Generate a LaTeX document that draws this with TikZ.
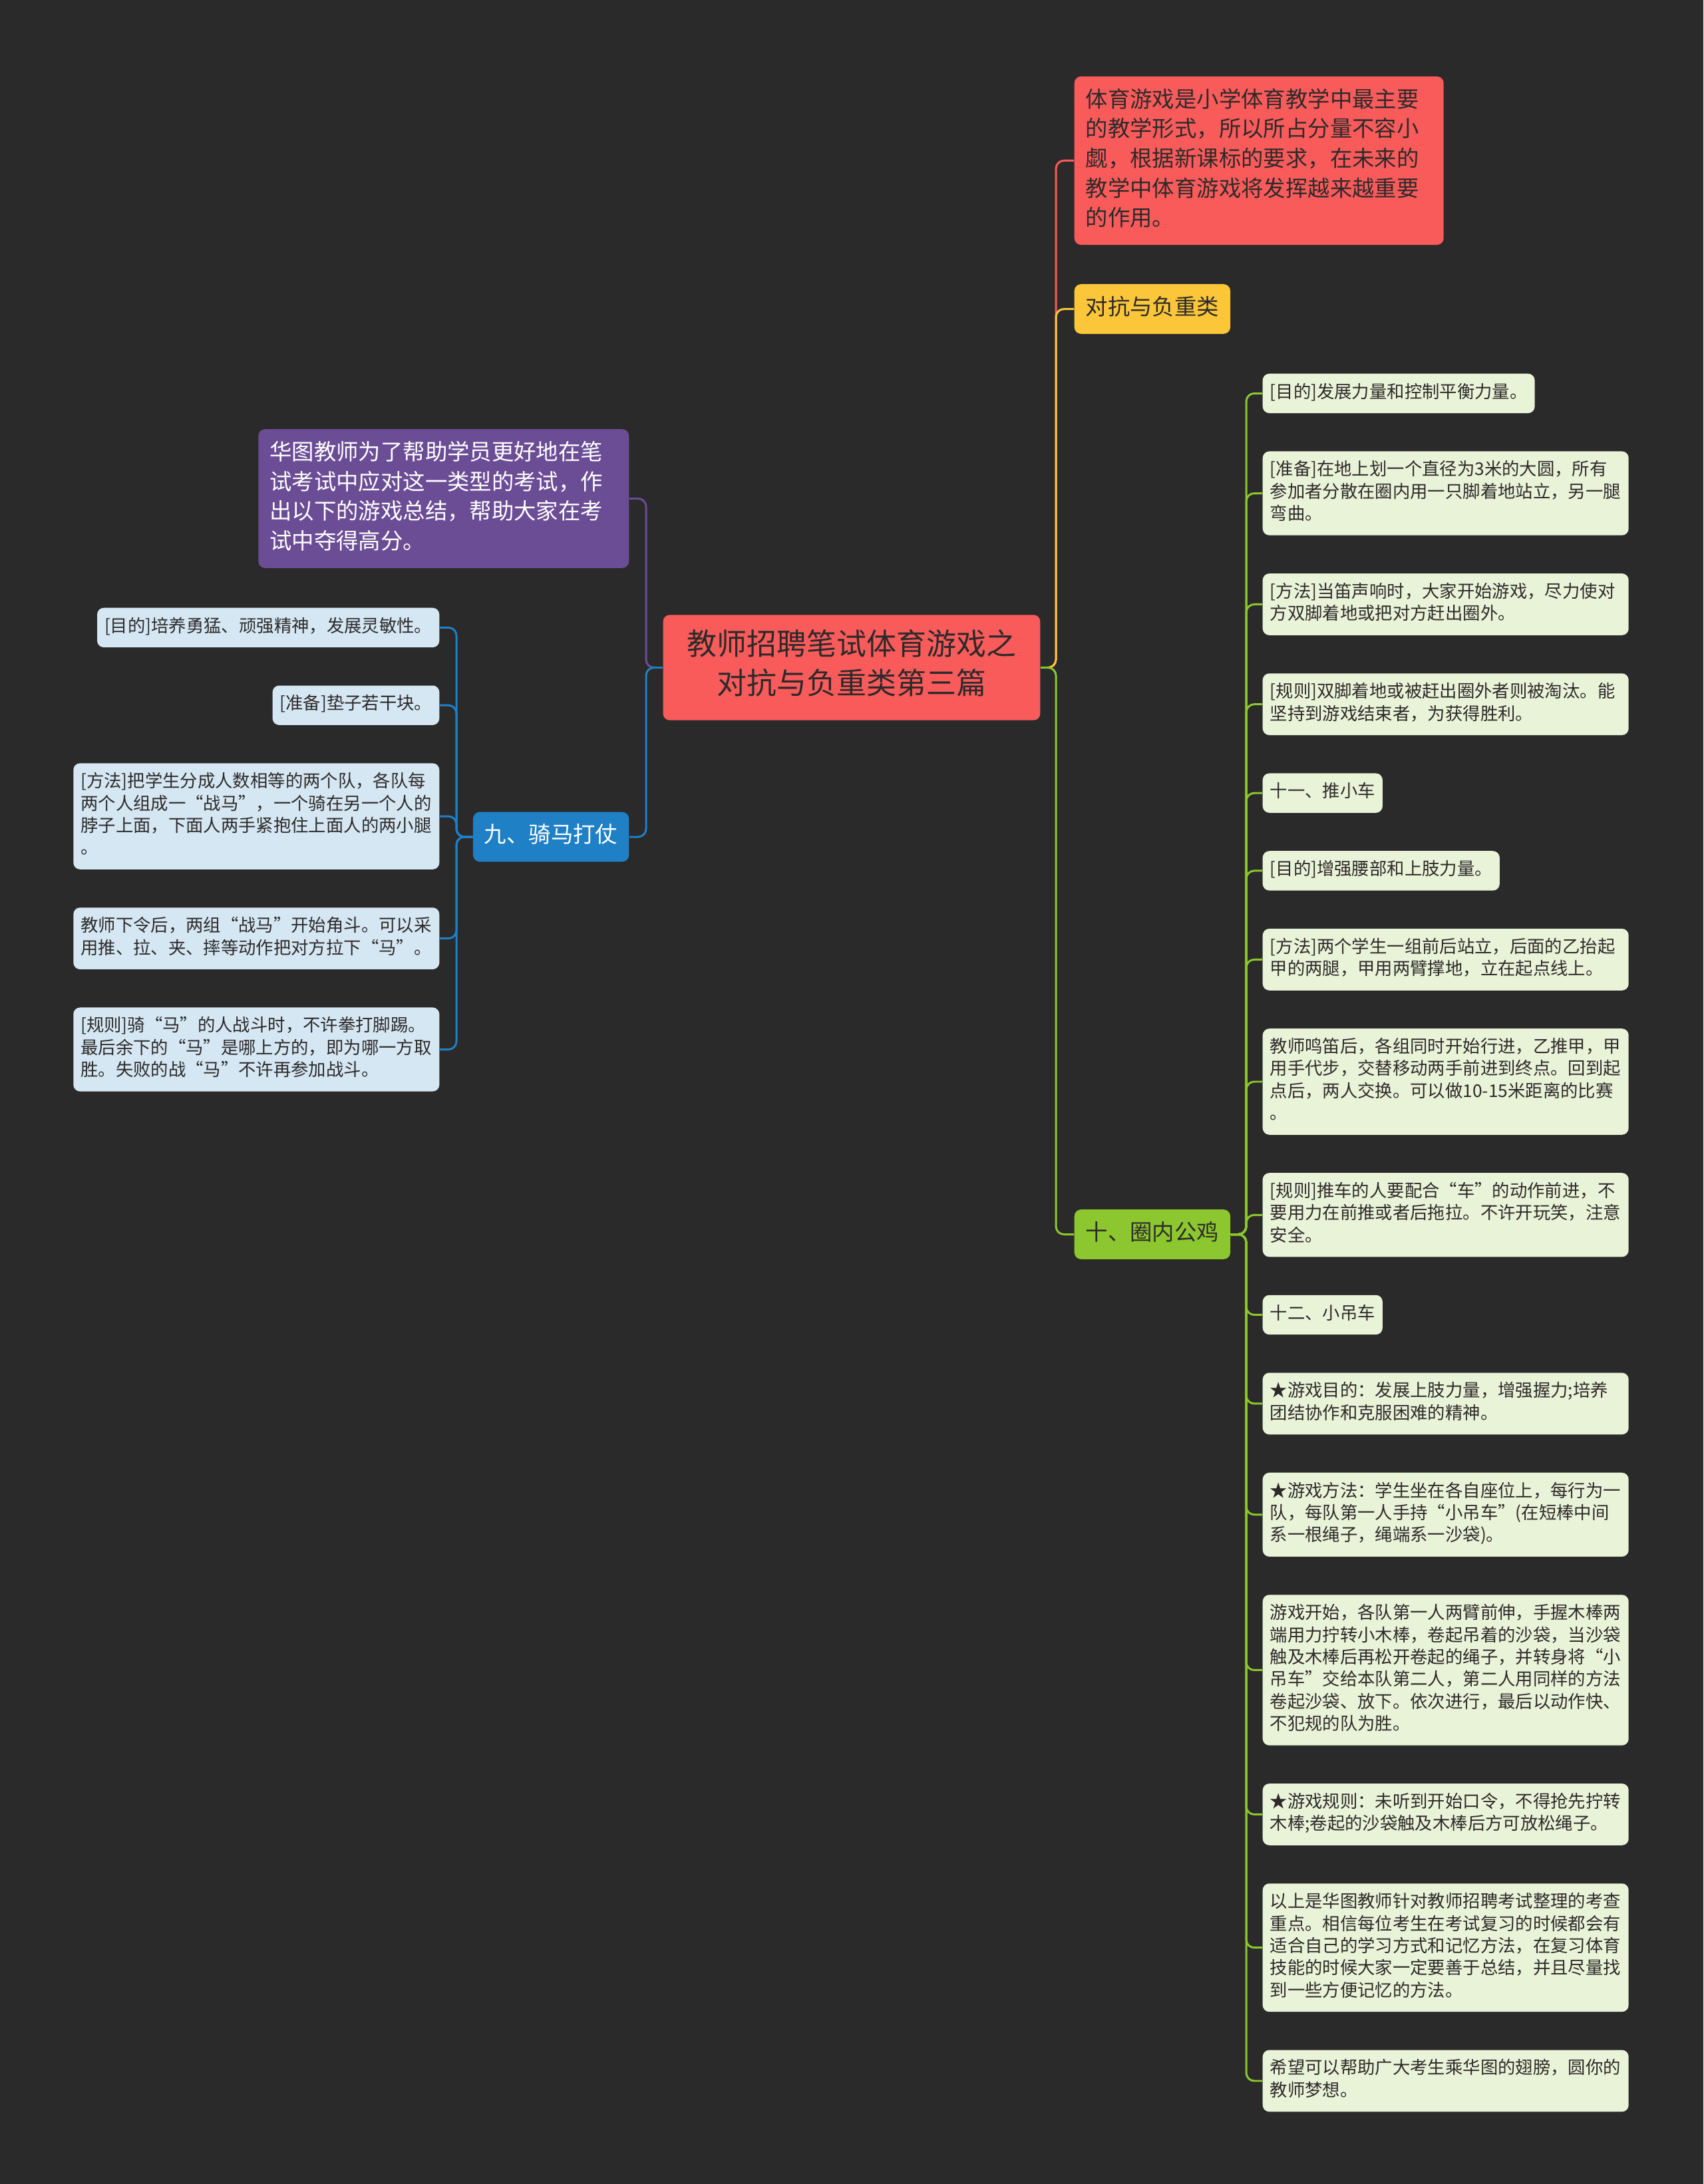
\documentclass[tikz,border=0pt]{standalone}
\usepackage{fontspec}
\setmainfont{Noto Sans CJK SC}
\usetikzlibrary{positioning}

\definecolor{bgdark}{HTML}{2A2A2A}
\definecolor{rootred}{HTML}{F95B5B}
\definecolor{inkdark}{HTML}{2E2A2A}
\definecolor{catyellow}{HTML}{FBC63A}
\definecolor{catgreen}{HTML}{8CC72F}
\definecolor{catblue}{HTML}{1F80C6}
\definecolor{introviolet}{HTML}{6B4D95}
\definecolor{leafgreen}{HTML}{E9F3D8}
\definecolor{leafblue}{HTML}{D4E7F3}

\begin{document}
\begin{tikzpicture}[
	box/.style={rounded corners=0.1cm, align=left, execute at begin node=\strut, execute at end node=\strut},
	leaf/.style={box, font=\fontsize{7.5pt}{9.5pt}\selectfont, text=inkdark, inner xsep=0.11cm, inner ysep=0.13cm},
	wide/.style={text width=5.28cm},
	leafg/.style={leaf, fill=leafgreen},
	leafb/.style={leaf, fill=leafblue},
	mid/.style={box, font=\fontsize{9.5pt}{12.7pt}\selectfont, inner xsep=0.17cm, inner ysep=0.15cm},
	link/.style={line width=0.85pt, rounded corners=0.12cm},
	elbow/.style={to path={-- (\tikztostart -| #1) |- (\tikztotarget)}},
]
	\useasboundingbox (0,0) rectangle (25.6,-32.83);
	\fill[bgdark] (0,0) rectangle (25.6,-32.83);

	% Define nodes
	\node (root) [box, fill=rootred, text=inkdark, align=center, font=\fontsize{12.8pt}{16.7pt}\selectfont, inner xsep=0.36cm, inner ysep=0.22cm] at (12.80,-10.035) {教师招聘笔试体育游戏之\\对抗与负重类第三篇};

	\node (note) [mid, fill=rootred, text=inkdark, text width=5.21cm, anchor=west] at (16.14,-2.415) {体育游戏是小学体育教学中最主要\\的教学形式，所以所占分量不容小\\觑，根据新课标的要求，在未来的\\教学中体育游戏将发挥越来越重要\\的作用。};
	\node (kind) [mid, fill=catyellow, text=inkdark, anchor=west] at (16.14,-4.645) {对抗与负重类};
	\node (shi) [mid, fill=catgreen, text=inkdark, anchor=west] at (16.14,-18.555) {十、圈内公鸡};

	\node (intro) [mid, fill=introviolet, text=white, text width=5.23cm, anchor=east] at (9.46,-7.495) {华图教师为了帮助学员更好地在笔\\试考试中应对这一类型的考试，作\\出以下的游戏总结，帮助大家在考\\试中夺得高分。};
	\node (jiu) [mid, fill=catblue, text=white, anchor=east] at (9.46,-12.58) {九、骑马打仗};

	\node (l1) [leafb, anchor=north east] at (6.61,-9.13) {[目的]培养勇猛、顽强精神，发展灵敏性。};
	\node (l2) [leafb, below left=0.56cm and 0cm of l1.south east] {[准备]垫子若干块。};
	\node (l3) [leafb, wide, below left=0.56cm and 0cm of l2.south east] {[方法]把学生分成人数相等的两个队，各队每\\两个人组成一“战马”，一个骑在另一个人的\\脖子上面，下面人两手紧抱住上面人的两小腿\\。};
	\node (l4) [leafb, wide, below left=0.56cm and 0cm of l3.south east] {教师下令后，两组“战马”开始角斗。可以采\\用推、拉、夹、摔等动作把对方拉下“马”。};
	\node (l5) [leafb, wide, below left=0.56cm and 0cm of l4.south east] {[规则]骑“马”的人战斗时，不许拳打脚踢。\\最后余下的“马”是哪上方的，即为哪一方取\\胜。失败的战“马”不许再参加战斗。};

	\node (r1) [leafg, anchor=north west] at (18.97,-5.61) {[目的]发展力量和控制平衡力量。};
	\node (r2) [leafg, wide, below right=0.56cm and 0cm of r1.south west] {[准备]在地上划一个直径为3米的大圆，所有\\参加者分散在圈内用一只脚着地站立，另一腿\\弯曲。};
	\node (r3) [leafg, wide, below right=0.56cm and 0cm of r2.south west] {[方法]当笛声响时，大家开始游戏，尽力使对\\方双脚着地或把对方赶出圈外。};
	\node (r4) [leafg, wide, below right=0.56cm and 0cm of r3.south west] {[规则]双脚着地或被赶出圈外者则被淘汰。能\\坚持到游戏结束者，为获得胜利。};
	\node (r5) [leafg, below right=0.56cm and 0cm of r4.south west] {十一、推小车};
	\node (r6) [leafg, below right=0.56cm and 0cm of r5.south west] {[目的]增强腰部和上肢力量。};
	\node (r7) [leafg, wide, below right=0.56cm and 0cm of r6.south west] {[方法]两个学生一组前后站立，后面的乙抬起\\甲的两腿，甲用两臂撑地，立在起点线上。};
	\node (r8) [leafg, wide, below right=0.56cm and 0cm of r7.south west] {教师鸣笛后，各组同时开始行进，乙推甲，甲\\用手代步，交替移动两手前进到终点。回到起\\点后，两人交换。可以做10-15米距离的比赛\\。};
	\node (r9) [leafg, wide, below right=0.56cm and 0cm of r8.south west] {[规则]推车的人要配合“车”的动作前进，不\\要用力在前推或者后拖拉。不许开玩笑，注意\\安全。};
	\node (r10) [leafg, below right=0.56cm and 0cm of r9.south west] {十二、小吊车};
	\node (r11) [leafg, wide, below right=0.56cm and 0cm of r10.south west] {★游戏目的：发展上肢力量，增强握力;培养\\团结协作和克服困难的精神。};
	\node (r12) [leafg, wide, below right=0.56cm and 0cm of r11.south west] {★游戏方法：学生坐在各自座位上，每行为一\\队，每队第一人手持“小吊车”(在短棒中间\\系一根绳子，绳端系一沙袋)。};
	\node (r13) [leafg, wide, below right=0.56cm and 0cm of r12.south west] {游戏开始，各队第一人两臂前伸，手握木棒两\\端用力拧转小木棒，卷起吊着的沙袋，当沙袋\\触及木棒后再松开卷起的绳子，并转身将“小\\吊车”交给本队第二人，第二人用同样的方法\\卷起沙袋、放下。依次进行，最后以动作快、\\不犯规的队为胜。};
	\node (r14) [leafg, wide, below right=0.56cm and 0cm of r13.south west] {★游戏规则：未听到开始口令，不得抢先拧转\\木棒;卷起的沙袋触及木棒后方可放松绳子。};
	\node (r15) [leafg, wide, below right=0.56cm and 0cm of r14.south west] {以上是华图教师针对教师招聘考试整理的考查\\重点。相信每位考生在考试复习的时候都会有\\适合自己的学习方式和记忆方法，在复习体育\\技能的时候大家一定要善于总结，并且尽量找\\到一些方便记忆的方法。};
	\node (r16) [leafg, wide, below right=0.56cm and 0cm of r15.south west] {希望可以帮助广大考生乘华图的翅膀，圆你的\\教师梦想。};

	\coordinate (rootR) at (15.87,0);
	\coordinate (rootL) at (9.71,0);
	\coordinate (jiuT) at (6.86,0);
	\coordinate (shiT) at (18.73,0);

	% Draw edges
	\path[link]
	(root.east) edge[draw=rootred, elbow=rootR] (note.west)
	(root.east) edge[draw=catyellow, elbow=rootR] (kind.west)
	(root.east) edge[draw=catgreen, elbow=rootR] (shi.west)
	(root.west) edge[draw=introviolet, elbow=rootL] (intro.east)
	(root.west) edge[draw=catblue, elbow=rootL] (jiu.east);

	\path[link, draw=catblue]
	(jiu.west) edge[elbow=jiuT] (l1.east)
	(jiu.west) edge[elbow=jiuT] (l2.east)
	(jiu.west) edge[elbow=jiuT] (l3.east)
	(jiu.west) edge[elbow=jiuT] (l4.east)
	(jiu.west) edge[elbow=jiuT] (l5.east);

	\path[link, draw=catgreen]
	(shi.east) edge[elbow=shiT] (r1.west)
	(shi.east) edge[elbow=shiT] (r2.west)
	(shi.east) edge[elbow=shiT] (r3.west)
	(shi.east) edge[elbow=shiT] (r4.west)
	(shi.east) edge[elbow=shiT] (r5.west)
	(shi.east) edge[elbow=shiT] (r6.west)
	(shi.east) edge[elbow=shiT] (r7.west)
	(shi.east) edge[elbow=shiT] (r8.west)
	(shi.east) edge[elbow=shiT] (r9.west)
	(shi.east) edge[elbow=shiT] (r10.west)
	(shi.east) edge[elbow=shiT] (r11.west)
	(shi.east) edge[elbow=shiT] (r12.west)
	(shi.east) edge[elbow=shiT] (r13.west)
	(shi.east) edge[elbow=shiT] (r14.west)
	(shi.east) edge[elbow=shiT] (r15.west)
	(shi.east) edge[elbow=shiT] (r16.west);
\end{tikzpicture}
\end{document}
